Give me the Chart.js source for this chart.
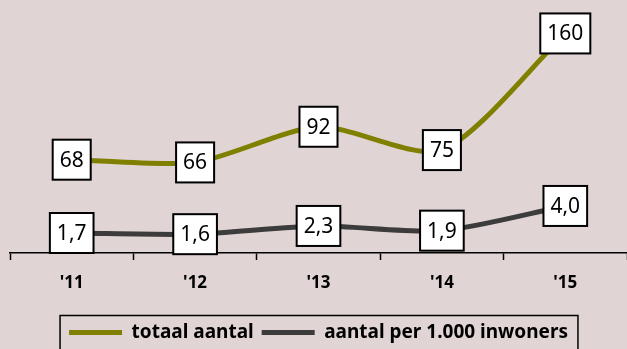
<!DOCTYPE html>
<html>
<head>
<meta charset="utf-8">
<script src="https://cdn.jsdelivr.net/npm/chart.js@4"></script>
<style>
  body { margin: 0; background: #e0d4d4; }
  canvas { display: block; }
</style>
</head>
<body>
<canvas id="myChart" width="627" height="349"></canvas>
<script>
// data
const years = ["'11", "'12", "'13", "'14", "'15"];
const totaalAantal = [68, 66, 92, 75, 160];
const perDuizend = [1.7, 1.6, 2.3, 1.9, 4.0];
const seriesNames = ['totaal aantal', 'aantal per 1.000 inwoners'];

const green = '#808000';
const dark = '#3c3c3c';

// white boxes with the value, centered on each point
const valueBoxes = {
  id: 'valueBoxes',
  afterDatasetsDraw(chart) {
    const ctx = chart.ctx;
    ctx.save();
    ctx.font = '21px "Noto Sans"';
    ctx.textAlign = 'center';
    ctx.textBaseline = 'middle';
    chart.data.datasets.forEach((ds, i) => {
      const meta = chart.getDatasetMeta(i);
      meta.data.forEach((pt, j) => {
        const v = ds.data[j];
        const txt = i === 1 ? v.toFixed(1).replace('.', ',') : String(v);
        const w = ctx.measureText(txt).width + 14;
        const h = 40;
        ctx.fillStyle = '#ffffff';
        ctx.fillRect(pt.x - w / 2, pt.y - h / 2, w, h);
        ctx.strokeStyle = '#000000';
        ctx.lineWidth = 2;
        ctx.strokeRect(pt.x - w / 2, pt.y - h / 2, w, h);
        ctx.fillStyle = '#000000';
        ctx.fillText(txt, pt.x, pt.y + 1);
      });
    });
    ctx.restore();
  },
};

// border around the legend items
const legendBorder = {
  id: 'legendBorder',
  afterDraw(chart) {
    const lg = chart.legend;
    if (!lg || !lg.legendHitBoxes.length) return;
    const boxes = lg.legendHitBoxes;
    const first = boxes[0];
    const last = boxes[boxes.length - 1];
    const ctx = chart.ctx;
    ctx.save();
    ctx.strokeStyle = '#000000';
    ctx.lineWidth = 1.5;
    const left = first.left - 9;
    const right = last.left + last.width + 10;
    ctx.strokeRect(left, lg.top + 0.5, right - left, lg.height + 10);
    ctx.restore();
  },
};

const ctx = document.getElementById('myChart');

new Chart(ctx, {
  type: 'line',
  data: {
    labels: years,
    datasets: [
      {
        label: seriesNames[0],
        data: totaalAantal,
        borderColor: green,
        backgroundColor: green,
        borderWidth: 5,
        pointRadius: 0,
        tension: 0.25,
        yAxisID: 'y',
      },
      {
        label: seriesNames[1],
        data: perDuizend,
        borderColor: dark,
        backgroundColor: dark,
        borderWidth: 5,
        pointRadius: 0,
        tension: 0.25,
        yAxisID: 'y2',
      },
    ],
  },
  options: {
    responsive: false,
    animation: false,
    devicePixelRatio: 1,
    layout: {
      padding: { left: 10, right: 0, top: 6, bottom: -3 },
    },
    scales: {
      x: {
        offset: true,
        grid: {
          display: true,
          offset: true,
          drawOnChartArea: false,
          drawTicks: true,
          tickLength: 7,
          tickWidth: 1.5,
          color: '#000000',
        },
        border: { display: true, color: '#000000', width: 1.5 },
        ticks: {
          color: '#000000',
          padding: 13,
          font: { family: 'Noto Sans', size: 17, weight: 'bold' },
        },
        afterFit(scale) {
          scale.height = 62;
        },
      },
      y: { display: false, min: 0, max: 180 },
      y2: { display: false, min: 0, max: 21 },
    },
    plugins: {
      tooltip: { enabled: false },
      legend: {
        position: 'bottom',
        labels: {
          color: '#000000',
          boxWidth: 53,
          boxHeight: 5,
          padding: 8,
          font: { family: 'Noto Sans', size: 19, weight: 'bold' },
          generateLabels(chart) {
            const items = Chart.defaults.plugins.legend.labels.generateLabels(chart);
            items.forEach((it) => { it.lineWidth = 0; });
            return items;
          },
        },
      },
    },
  },
  plugins: [valueBoxes, legendBorder],
});
</script>
</body>
</html>
